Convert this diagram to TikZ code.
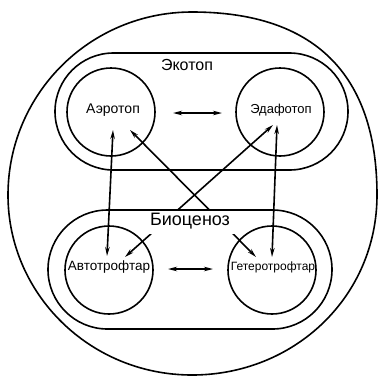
\documentclass[tikz,border=0pt]{standalone}
\usepackage{fontspec}
\setmainfont{Liberation Sans}
\usetikzlibrary{arrows.meta,shapes.misc}
\begin{document}
\begin{tikzpicture}[x=1pt,y=-1pt,
  ln/.style={line width=1.6pt},
  ring/.style={ln,draw,circle,minimum size=88pt,inner sep=0pt},
  stadium/.style={ln,draw,rounded rectangle,inner sep=0pt},
  lbl/.style={inner sep=0pt},
  link/.style={ln,{Stealth[length=9pt,width=4.5pt]}-{Stealth[length=9pt,width=4.5pt]}}]
\useasboundingbox (0,0) rectangle (378,376);
% outer boundary (hand-drawn circle, a little fuller at the upper right)
\draw[ln] (192,12) .. controls (314,12) and (377,74) .. (377,195)
  .. controls (377,297) and (294,375) .. (192,375)
  .. controls (90,375) and (8,294) .. (8,195)
  .. controls (8,94) and (90,12) .. (192,12) -- cycle;
\node[stadium,minimum width=293pt,minimum height=117pt] (eko) at (201.5,111.5) {};
\node[lbl,font=\fontsize{16}{16}\selectfont] (ekolbl) at (187,65) {Экотоп};
\node[ring] (aero) at (111,112) {};
\node[ring] (edaf) at (280,112) {};
\node[ring] (avto) at (109,270) {};
\node[ring] (get) at (272,270) {};
\node[lbl,font=\fontsize{14}{14}\selectfont] (aerolbl) at (113,110) {Аэротоп};
\node[lbl,font=\fontsize{13}{13}\selectfont] (edaflbl) at (281,110) {Эдафотоп};
\node[lbl,font=\fontsize{13.5}{13.5}\selectfont] (avtolbl) at (109,267) {Автотрофтар};
\node[lbl,font=\fontsize{12}{12}\selectfont] (getlbl) at (273,267) {Гетеротрофтар};
% connector end points
\coordinate (aeroR) at (173,113);
\coordinate (edafL) at (222,113);
\coordinate (avtoR) at (168,269);
\coordinate (getL) at (213,269);
\coordinate (aeroB) at (113,130);
\coordinate (avtoT) at (107,256);
\coordinate (edafB) at (277,125);
\coordinate (getT) at (272,257);
\coordinate (aeroX) at (130,130);
\coordinate (getX) at (256,257);
\coordinate (edafX) at (273,125);
\coordinate (avtoX) at (125,257);
\draw[link] (aeroR) -- (edafL);
\draw[link] (avtoR) -- (getL);
\draw[link] (aeroB) -- (avtoT);
\draw[link] (edafB) -- (getT);
\draw[link] (aeroX) -- (getX);
\draw[link] (edafX) -- (avtoX);
\node[fill=white,minimum width=92pt,minimum height=24pt,inner sep=0pt,
      font=\fontsize{18}{18}\selectfont] (biolbl) at (190,221.5) {Биоценоз};
\node[stadium,minimum width=284pt,minimum height=119pt] (bio) at (190,269.5) {};
\end{tikzpicture}
\end{document}
